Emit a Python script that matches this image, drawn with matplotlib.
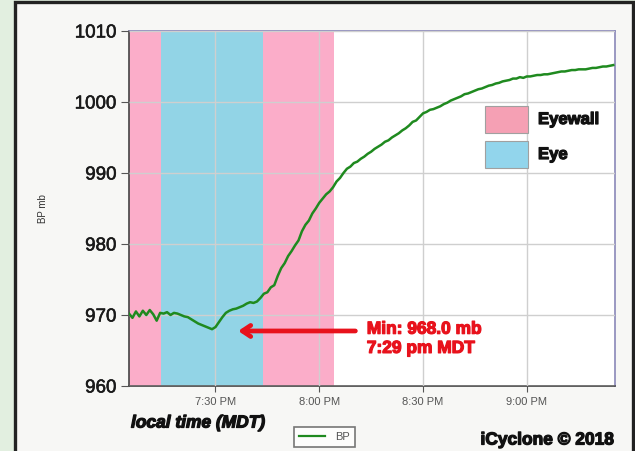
"""
plot.py - iCyclone barometric pressure trace through the eye (2018).
"""

import numpy as np
import pandas as pd
import matplotlib
matplotlib.use('Agg')
import matplotlib.pyplot as plt
import matplotlib.dates as mdates
import matplotlib.patheffects as pe
from matplotlib.patches import Rectangle
from matplotlib.lines import Line2D

plt.rcParams['font.family'] = ['Liberation Sans', 'DejaVu Sans']

# ──────────────────────────────────────────────
# Data (one value per minute from 7:05 PM)
# ──────────────────────────────────────────────
START = '2018-10-23 19:05'
pressure = [
    970.2, 969.6, 970.5, 969.8, 970.6, 970.0, 970.7, 970.1, 969.2, 970.3,   # 19:05-19:14
    970.2, 970.4, 970.0, 970.3, 970.2, 970.0, 969.8, 969.7,                 # 19:15-19:22
    969.4, 969.1, 968.8, 968.6, 968.4, 968.2, 968.0,                        # 19:23-19:29
    968.3, 969.0, 969.7, 970.3, 970.6, 970.8, 970.9, 971.1,                 # 19:30-19:37
    971.3, 971.6, 971.8, 971.7, 971.9, 972.4, 973.0,                        # 19:38-19:44
    973.2, 973.9, 974.2, 975.5, 976.6, 977.3, 978.3, 979.0,                 # 19:45-19:52
    979.8, 980.5, 981.8, 982.7, 983.3, 984.3, 985.0, 985.8,                 # 19:53-20:00
    986.4, 987.0, 987.4, 988.0, 988.8, 989.3, 990.0,                        # 20:01-20:07
    990.6, 990.9, 991.4, 991.6, 992.0, 992.3,                               # 20:08-20:13
    992.7, 993.0, 993.4, 993.7, 994.0, 994.4,                               # 20:14-20:19
    994.6, 995.0, 995.3, 995.6, 996.0, 996.3,                               # 20:20-20:25
    996.7, 997.2, 997.4, 997.9, 998.4,                                      # 20:26-20:30
    998.6, 998.9, 999.0, 999.2, 999.4, 999.7,                               # 20:31-20:36
    999.9, 1000.2, 1000.4, 1000.6, 1000.8, 1001.1,                          # 20:37-20:42
    1001.2, 1001.4, 1001.6, 1001.8, 1001.9, 1002.1,                         # 20:43-20:48
    1002.3, 1002.4, 1002.6, 1002.7, 1002.9, 1003.0,                         # 20:49-20:54
    1003.1, 1003.3, 1003.3, 1003.5, 1003.4, 1003.6,                         # 20:55-21:00
    1003.6, 1003.7, 1003.8, 1003.8, 1003.9, 1003.9,                         # 21:01-21:06
    1004.0, 1004.1, 1004.2, 1004.3, 1004.3, 1004.4,                         # 21:07-21:12
    1004.5, 1004.5, 1004.6, 1004.6, 1004.6, 1004.7,                         # 21:13-21:18
    1004.8, 1004.8, 1004.9, 1005.0, 1005.0, 1005.1, 1005.2,                 # 21:19-21:25
]

# eyewall / eye shading (start, end, kind)
band_starts = ['2018-10-23 19:05', '2018-10-23 19:14:15', '2018-10-23 19:43:45']
band_ends = ['2018-10-23 19:14:15', '2018-10-23 19:43:45', '2018-10-23 20:04:10']
band_kinds = ['Eyewall', 'Eye', 'Eyewall']
key_labels = ['Eyewall', 'Eye']

x_min, x_max = '2018-10-23 19:05', '2018-10-23 21:25:30'
y_ticks = [960, 970, 980, 990, 1000, 1010]

min_time = '2018-10-23 19:29'
min_value = 968.0

BAND_COLORS = {'Eyewall': '#fbadc9', 'Eye': '#92d4e6'}
LEGEND_COLORS = {'Eyewall': '#f5a0b4', 'Eye': '#92d5ec'}
LINE_COLOR = '#1f8a1f'
RED = '#e8121c'


def heavy(color, w=0.9):
    # fake the heavy (Arial Black-like) face of the original
    return [pe.withStroke(linewidth=w, foreground=color)]


# ──────────────────────────────────────────────
# Figure
# ──────────────────────────────────────────────
fig = plt.figure(figsize=(6.35, 4.51), dpi=100, facecolor='#e2efe0')
# screenshot frame (behind everything)
frame = Rectangle((14.5 / 635, -0.02), 618 / 635, 1.02 - 1.5 / 451,
                  transform=fig.transFigure, facecolor='#f7f7f5',
                  edgecolor='#222222', linewidth=2.4, zorder=-5)
fig.patches.append(frame)

ax = fig.add_axes([129 / 635, 1 - 386 / 451, 486 / 635, 355 / 451])
ax.set_facecolor('white')

times = pd.date_range(START, periods=len(pressure), freq='1min')

for s, e, k in zip(band_starts, band_ends, band_kinds):
    ax.axvspan(pd.Timestamp(s), pd.Timestamp(e), color=BAND_COLORS[k],
               linewidth=0, zorder=0)

ax.grid(True, color='#cfcfcf', linewidth=1.0, zorder=1)
ax.set_axisbelow(False)

ax.plot(times, pressure, color=LINE_COLOR, linewidth=1.8, zorder=3)

ax.set_xlim(pd.Timestamp(x_min), pd.Timestamp(x_max))
ax.set_ylim(y_ticks[0], y_ticks[-1])
ax.set_yticks(y_ticks)
ax.xaxis.set_major_locator(mdates.MinuteLocator(byminute=[0, 30]))
ax.xaxis.set_major_formatter(mdates.DateFormatter('%-I:%M %p'))

ax.tick_params(axis='y', labelsize=13.5, labelcolor='#1a1a1a', length=6,
               color='#555555', pad=3)
ax.tick_params(axis='x', labelsize=8, labelcolor='#555555', length=4,
               color='#555555', pad=4)
for lab in ax.get_yticklabels():
    lab.set_path_effects(heavy('#1a1a1a', 0.4))

for side in ['left', 'bottom']:
    ax.spines[side].set_color('#444444')
    ax.spines[side].set_linewidth(1.2)
for side in ['top', 'right']:
    ax.spines[side].set_color('#8a88b8')
    ax.spines[side].set_linewidth(1.2)

ax.set_ylabel('BP mb', fontsize=7, color='#333333', labelpad=19)

# minimum annotation
ax.annotate('', xy=(pd.Timestamp('2018-10-23 19:35:45'), 967.75),
            xytext=(pd.Timestamp('2018-10-23 20:11:15'), 967.75),
            arrowprops=dict(arrowstyle='->,head_length=0.6,head_width=0.4',
                            color=RED, lw=3.4), zorder=4)
ax.text(pd.Timestamp('2018-10-23 20:13:45'), 968.0,
        f'Min: {min_value:.1f} mb', color=RED, fontsize=12.5,
        fontweight='bold', va='center', ha='left', path_effects=heavy(RED))
ax.text(pd.Timestamp('2018-10-23 20:13:45'), 965.3,
        pd.Timestamp(min_time).strftime('%-I:%M').lower() + ' pm MDT',
        color=RED, fontsize=12.5, fontweight='bold', va='center', ha='left',
        path_effects=heavy(RED))

# eyewall / eye key, drawn in axes coordinates
for i, k in enumerate(key_labels):
    y0 = 0.7127 - i * 0.0986
    ax.add_patch(Rectangle((0.7325, y0), 0.0885, 0.0761, transform=ax.transAxes,
                           facecolor=LEGEND_COLORS[k], edgecolor='#a0a0a0',
                           linewidth=0.8, zorder=5))
    ax.text(0.8416, y0 + 0.038, k, transform=ax.transAxes, fontsize=12,
            fontweight='bold', va='center', ha='left', color='#111111',
            path_effects=heavy('#111111'), zorder=5)

# bottom texts
fig.text(131 / 635, 1 - 423 / 451, 'local time (MDT)', fontsize=12.5,
         fontweight='bold', fontstyle='italic', ha='left', va='center',
         color='#111111', path_effects=heavy('#111111'))
fig.text(614 / 635, 1 - 440 / 451, 'iCyclone \u00a9 2018', fontsize=12.5,
         fontweight='bold', ha='right', va='center', color='#111111',
         path_effects=heavy('#111111'))

# series legend box below the axes
fig.legend(handles=[Line2D([], [], color=LINE_COLOR, linewidth=1.6, label='BP')],
           loc='center', bbox_to_anchor=(324.5 / 635, 1 - 437 / 451),
           fontsize=8, frameon=True, fancybox=False, edgecolor='#555555',
           handlelength=2.3, handletextpad=0.9, borderpad=0.45,
           borderaxespad=0, labelcolor='#555555').get_frame().set_linewidth(1.2)

fig.savefig('out.png', dpi=100)
